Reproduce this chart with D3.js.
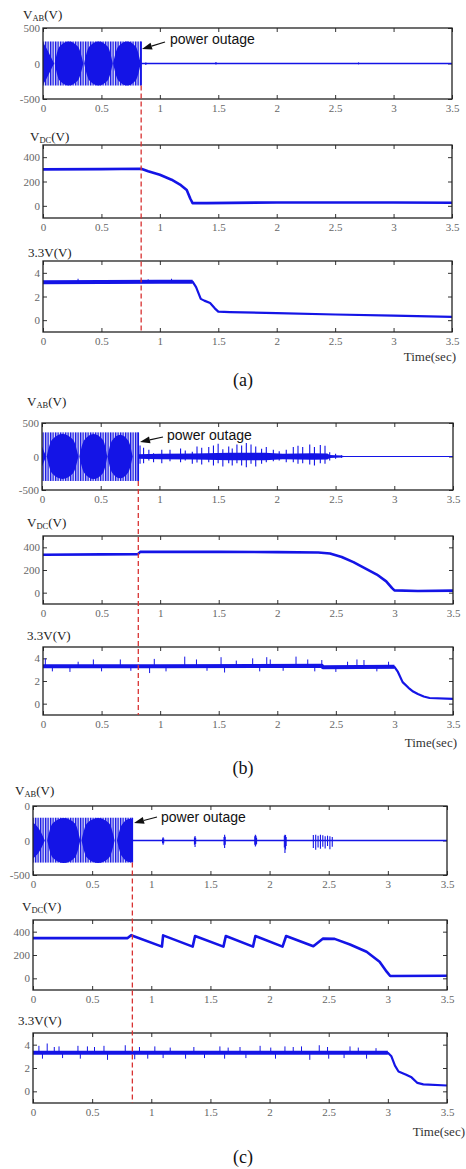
<!DOCTYPE html>
<html>
<head>
<meta charset="utf-8">
<script src="https://cdn.jsdelivr.net/npm/d3@7"></script>
<style>
  body { margin: 0; background: #fff; }
  svg { display: block; }
</style>
</head>
<body>
<svg id="fig"></svg>
<script>
const width = 466;
const height = 1169;

// ---- ticks ----
const timeTicks = [0, 0.5, 1, 1.5, 2, 2.5, 3, 3.5];
const vabTicks = [-500, 0, 500];
const vabTickLabels = [["-500", "0", "500"], ["-500", "0", "500"], ["-500", "0", "0"]];
const vdcTicks = [0, 200, 400];
const v33Ticks = [0, 2, 4];

const panelNames = ["(a)", "(b)", "(c)"];
const outageTimes = [0.84, 0.82, 0.84];

// ---- V_AB before the outage: peak band and the solid beat lobes [t, half height] ----
const acPeaks = [[-310, 310], [-365, 360], [-320, 330]];
const lobesA = [
  [[0, 300], [0.03, 215], [0.06, 115], [0.095, 0]],
  [[0.10, 0], [0.14, 235], [0.22, 310], [0.30, 235], [0.345, 0]],
  [[0.352, 0], [0.395, 235], [0.475, 310], [0.555, 235], [0.597, 0]],
  [[0.60, 0], [0.643, 235], [0.72, 310], [0.795, 235], [0.836, 0]]
];
const lobesB = [
  [[0, 150], [0.035, 0]],
  [[0.04, 0], [0.085, 250], [0.175, 335], [0.265, 250], [0.31, 0]],
  [[0.318, 0], [0.36, 245], [0.44, 335], [0.52, 245], [0.556, 0]],
  [[0.558, 0], [0.595, 235], [0.665, 325], [0.735, 235], [0.772, 0]]
];
const lobesC = [
  [[0, 260], [0.05, 170], [0.10, 0]],
  [[0.12, 0], [0.165, 245], [0.26, 325], [0.355, 245], [0.40, 0]],
  [[0.41, 0], [0.455, 245], [0.55, 325], [0.645, 245], [0.69, 0]],
  [[0.71, 0], [0.75, 225], [0.82, 315], [0.84, 305]]
];

// ---- V_AB after the outage: core band [t, half width] and spikes [t, low, high] ----
const vabCoreA = [[0.84, 12], [3.5, 12]];
const vabCoreB = [[0.82, 35], [1.0, 40], [1.3, 45], [1.6, 55], [1.9, 55], [2.05, 40], [2.3, 50],
  [2.43, 45], [2.45, 22], [2.55, 15], [2.57, 8], [3.5, 8]];
const vabCoreC = [[0.84, 10], [3.5, 10]];
const vabSpikesA = [[0.88, -20, 15], [1.48, -15, 20], [2.7, -12, 15]];
const vabSpikesB = [
  [0.835, -110, 165], [0.865, -100, 130], [0.91, -60, 100], [0.95, -85, 50], [1.02, -100, 100],
  [1.09, -70, 100], [1.18, -85, 120], [1.22, -60, 90], [1.28, -110, 70], [1.32, -90, 150],
  [1.36, -120, 130], [1.42, -85, 140], [1.46, -135, 165], [1.50, -100, 190], [1.54, -150, 110],
  [1.59, -100, 150], [1.62, -135, 120], [1.66, -100, 180], [1.70, -135, 165], [1.74, -160, 200],
  [1.78, -110, 180], [1.82, -150, 150], [1.87, -110, 115], [1.91, -85, 140], [1.97, -70, 100],
  [2.02, -60, 80], [2.08, -85, 100], [2.14, -85, 140], [2.18, -110, 160], [2.22, -100, 140],
  [2.28, -120, 180], [2.32, -135, 140], [2.37, -100, 170], [2.41, -110, 160], [2.45, -60, 65],
  [2.50, -35, 40], [2.55, -20, 20]
];
const vabSpikesC = [
  [1.095, -40, 30], [1.10, -62, 48], [1.105, -40, 30],
  [1.365, -60, 45], [1.37, -96, 67], [1.375, -50, 40],
  [1.615, -70, 50], [1.62, -110, 82], [1.625, -60, 55],
  [1.875, -60, 60], [1.88, -86, 82], [1.885, -70, 70], [1.89, -50, 40],
  [2.125, -100, 70], [2.13, -180, 82], [2.135, -130, 80], [2.14, -80, 50],
  [2.37, -110, 80], [2.39, -134, 82], [2.41, -100, 70], [2.43, -120, 82], [2.45, -90, 75],
  [2.47, -115, 60], [2.49, -80, 70], [2.51, -125, 60], [2.53, -90, 50]
];

// ---- V_DC [t, V] ----
const vdcA = [[0, 300], [0.5, 302], [0.84, 305], [0.9, 285], [1.0, 255], [1.1, 215], [1.18, 170],
  [1.23, 130], [1.26, 60], [1.28, 22], [1.4, 22], [2.0, 28], [2.5, 27], [3.0, 27], [3.5, 25]];
const vdcB = [[0, 335], [0.5, 338], [0.81, 340], [0.83, 360], [1.5, 360], [2.0, 358], [2.35, 355],
  [2.45, 345], [2.55, 315], [2.65, 270], [2.75, 215], [2.85, 160], [2.93, 100], [2.98, 40],
  [3.0, 20], [3.2, 15], [3.5, 18]];
const vdcC = [[0, 345], [0.8, 345], [0.83, 370], [1.09, 272], [1.10, 368], [1.35, 272], [1.37, 363],
  [1.61, 272], [1.63, 363], [1.86, 272], [1.88, 363], [2.11, 272], [2.14, 363], [2.37, 275],
  [2.45, 340], [2.55, 338], [2.68, 290], [2.82, 228], [2.93, 142], [2.99, 57], [3.02, 20], [3.5, 22]];

// ---- 3.3V rail [t, V] and spikes [t, V] ----
const v33A = [[0, 3.2], [0.5, 3.22], [1.0, 3.25], [1.28, 3.25], [1.31, 2.8], [1.35, 1.8], [1.38, 1.65],
  [1.43, 1.45], [1.47, 1.0], [1.5, 0.72], [1.6, 0.68], [2.0, 0.6], [2.5, 0.48], [3.0, 0.38], [3.5, 0.28]];
const v33B = [[0, 3.3], [1.0, 3.3], [2.38, 3.35], [2.39, 3.22], [3.0, 3.25], [3.03, 2.8], [3.07, 1.9],
  [3.12, 1.4], [3.16, 1.07], [3.2, 0.85], [3.25, 0.63], [3.3, 0.5], [3.5, 0.42]];
const v33C = [[0, 3.3], [1.5, 3.3], [3.0, 3.3], [3.03, 3.0], [3.06, 2.2], [3.09, 1.7], [3.15, 1.45],
  [3.2, 1.2], [3.25, 0.72], [3.3, 0.6], [3.5, 0.5]];
const v33SpikesA = [[0.3, 3.5], [0.9, 3.45], [1.1, 3.5]];
const v33SpikesB = [
  [0.02, 4.0], [0.08, 2.85], [0.23, 2.8], [0.30, 3.7], [0.43, 3.9], [0.50, 2.85], [0.66, 3.9],
  [0.75, 2.9], [0.91, 2.7], [0.95, 3.95], [1.05, 2.85], [1.21, 4.15], [1.31, 3.9], [1.40, 2.9],
  [1.52, 4.1], [1.55, 2.75], [1.65, 3.8], [1.79, 4.0], [1.85, 2.85], [1.91, 4.1], [1.94, 3.9],
  [2.05, 2.9], [2.16, 4.15], [2.26, 3.9], [2.32, 2.85], [2.38, 3.85], [2.50, 2.8], [2.60, 3.7],
  [2.68, 3.9], [2.74, 3.85], [2.85, 2.85], [2.95, 3.7]
];
const v33SpikesC = [
  [0.05, 3.9], [0.08, 2.8], [0.12, 4.1], [0.18, 3.8], [0.22, 3.85], [0.25, 2.85], [0.38, 3.9],
  [0.40, 2.8], [0.46, 3.85], [0.52, 3.8], [0.60, 3.9], [0.63, 2.7], [0.78, 3.95], [0.86, 2.75],
  [0.90, 3.8], [0.97, 2.8], [1.03, 3.85], [1.10, 2.85], [1.16, 3.75], [1.29, 2.8], [1.36, 3.8],
  [1.45, 2.85], [1.58, 3.85], [1.62, 2.8], [1.65, 3.75], [1.75, 3.8], [1.80, 2.85], [1.92, 3.9],
  [2.01, 3.75], [2.05, 2.8], [2.13, 3.85], [2.20, 3.8], [2.27, 3.85], [2.34, 2.7], [2.42, 3.95],
  [2.49, 3.8], [2.50, 2.8], [2.63, 2.85], [2.68, 3.85], [2.75, 3.75], [2.82, 2.8], [2.90, 3.7]
];

// ---- layout (pixel frames of the nine plots) ----
const frames = [
  [{ l: 43, r: 452, t: 28, b: 99 }, { l: 43, r: 452, t: 145, b: 218 }, { l: 43, r: 452, t: 261, b: 332 }],
  [{ l: 42, r: 453, t: 423, b: 490 }, { l: 43, r: 453, t: 536, b: 604 }, { l: 43, r: 453, t: 647, b: 715 }],
  [{ l: 33, r: 447, t: 806, b: 875 }, { l: 33, r: 447, t: 920, b: 990 }, { l: 33, r: 447, t: 1033, b: 1103 }]
];
const titlePos = [
  [[23, 19], [30, 141], [28, 257]],
  [[27, 406], [27, 527], [27, 640]],
  [[15, 795], [22, 911], [18, 1025]]
];
const timeLabelPos = [[456, 361], [457, 747], [465, 1136]];
const letterY = [386, 774, 1163];
const arrowPos = [ // [tailX, tailY, tipX, tipY, textX, textY]
  [165, 42, 142, 49, 170, 44],
  [163, 437, 140, 442, 167, 440],
  [157, 817, 134, 823, 161, 822]
];

const blue = "#1414e6";
const serif = "'Liberation Serif', 'DejaVu Serif', serif";

const svg = d3.select("#fig")
  .attr("width", width)
  .attr("height", height)
  .attr("viewBox", [0, 0, width, height]);

const defs = svg.append("defs");
const pat = defs.append("pattern")
  .attr("id", "stripes")
  .attr("patternUnits", "userSpaceOnUse")
  .attr("width", 2.5)
  .attr("height", 4);
pat.append("rect").attr("width", 2.5).attr("height", 4).attr("fill", "#e2e4f7");
pat.append("rect").attr("width", 1.3).attr("height", 4).attr("fill", blue);

const panels = [
  { lobes: lobesA, core: vabCoreA, spikes: vabSpikesA, vdc: vdcA, v33: v33A, v33Spikes: v33SpikesA },
  { lobes: lobesB, core: vabCoreB, spikes: vabSpikesB, vdc: vdcB, v33: v33B, v33Spikes: v33SpikesB },
  { lobes: lobesC, core: vabCoreC, spikes: vabSpikesC, vdc: vdcC, v33: v33C, v33Spikes: v33SpikesC }
];

function drawFrame(f, yDomain, yTicks, yLabels) {
  const x = d3.scaleLinear().domain([0, 3.5]).range([f.l, f.r]);
  const y = d3.scaleLinear().domain(yDomain).range([f.b, f.t]);
  const g = svg.append("g");

  const styleAxis = sel => {
    sel.select(".domain").remove();
    sel.selectAll(".tick line").attr("stroke", "#333");
    sel.selectAll(".tick text")
      .attr("fill", "#666")
      .attr("font-family", serif)
      .attr("font-size", 11);
  };

  g.append("g").attr("transform", `translate(0,${f.b})`)
    .call(d3.axisBottom(x).tickValues(timeTicks).tickFormat(d3.format("~g"))
      .tickSizeInner(-4).tickSizeOuter(0).tickPadding(5))
    .call(styleAxis);
  g.append("g").attr("transform", `translate(0,${f.t})`)
    .call(d3.axisTop(x).tickValues(timeTicks).tickFormat("")
      .tickSizeInner(-4).tickSizeOuter(0))
    .call(styleAxis);
  g.append("g").attr("transform", `translate(${f.l},0)`)
    .call(d3.axisLeft(y).tickValues(yTicks).tickFormat((d, i) => yLabels[i])
      .tickSizeInner(-4).tickSizeOuter(0).tickPadding(3))
    .call(styleAxis);
  g.append("g").attr("transform", `translate(${f.r},0)`)
    .call(d3.axisRight(y).tickValues(yTicks).tickFormat("")
      .tickSizeInner(-4).tickSizeOuter(0))
    .call(styleAxis);

  return { x, y, g };
}

function drawBox(f) {
  svg.append("rect")
    .attr("x", f.l).attr("y", f.t)
    .attr("width", f.r - f.l).attr("height", f.b - f.t)
    .attr("fill", "none").attr("stroke", "#222").attr("stroke-width", 1.3);
}

function title(xp, yp, main, sub, tail) {
  const t = svg.append("text")
    .attr("x", xp).attr("y", yp)
    .attr("font-family", serif).attr("font-size", 13).attr("fill", "#222");
  t.append("tspan").text(main);
  if (sub) t.append("tspan").attr("font-size", 8.5).attr("dy", 2).text(sub);
  t.append("tspan").attr("dy", sub ? -2 : 0).text(tail);
}

const line = (x, y) => d3.line().x(d => x(d[0])).y(d => y(d[1]));

panels.forEach((p, i) => {
  const fr = frames[i];
  const tOut = outageTimes[i];

  // ---------- V_AB ----------
  const a = drawFrame(fr[0], [-500, 500], vabTicks, vabTickLabels[i]);
  const [lo, hi] = acPeaks[i];
  a.g.append("rect")
    .attr("x", a.x(0)).attr("y", a.y(hi))
    .attr("width", a.x(tOut) - a.x(0)).attr("height", a.y(lo) - a.y(hi))
    .attr("fill", "url(#stripes)");
  const lobeArea = d3.area()
    .x(d => a.x(d[0]))
    .y0(d => a.y(-d[1]))
    .y1(d => a.y(d[1]))
    .curve(d3.curveMonotoneX);
  a.g.selectAll(".lobe").data(p.lobes).join("path")
    .attr("class", "lobe")
    .attr("d", lobeArea)
    .attr("fill", blue);
  a.g.append("line")
    .attr("x1", a.x(tOut)).attr("x2", a.x(tOut))
    .attr("y1", a.y(hi)).attr("y2", a.y(lo))
    .attr("stroke", blue).attr("stroke-width", 1.5);

  a.g.append("path")
    .datum(p.core)
    .attr("d", d3.area().x(d => a.x(d[0])).y0(d => a.y(-d[1])).y1(d => a.y(d[1])))
    .attr("fill", blue);
  a.g.selectAll(".spike").data(p.spikes).join("line")
    .attr("class", "spike")
    .attr("x1", d => a.x(d[0])).attr("x2", d => a.x(d[0]))
    .attr("y1", d => a.y(d[1])).attr("y2", d => a.y(d[2]))
    .attr("stroke", blue).attr("stroke-width", 1.1);
  drawBox(fr[0]);

  // ---------- V_DC ----------
  const b = drawFrame(fr[1], [-100, 500], vdcTicks, vdcTicks.map(String));
  b.g.append("path")
    .datum(p.vdc)
    .attr("d", line(b.x, b.y))
    .attr("fill", "none").attr("stroke", blue)
    .attr("stroke-width", 2.6).attr("stroke-linejoin", "round");
  drawBox(fr[1]);

  // ---------- 3.3V ----------
  const c = drawFrame(fr[2], [-1, 5], v33Ticks, v33Ticks.map(String));
  c.g.selectAll(".spike").data(p.v33Spikes).join("line")
    .attr("class", "spike")
    .attr("x1", d => c.x(d[0])).attr("x2", d => c.x(d[0]))
    .attr("y1", d => c.y(3.3)).attr("y2", d => c.y(d[1]))
    .attr("stroke", blue).attr("stroke-width", 1);
  c.g.append("path")
    .datum(p.v33)
    .attr("d", line(c.x, c.y))
    .attr("fill", "none").attr("stroke", blue)
    .attr("stroke-width", 2.2).attr("stroke-linejoin", "round");
  c.g.append("path")
    .datum(p.v33.filter(d => d[0] <= (i === 0 ? 1.28 : 3.0)))
    .attr("d", line(c.x, c.y))
    .attr("fill", "none").attr("stroke", blue)
    .attr("stroke-width", 4).attr("stroke-linejoin", "round");
  drawBox(fr[2]);

  // ---------- outage marker ----------
  svg.append("line")
    .attr("x1", a.x(tOut)).attr("x2", a.x(tOut))
    .attr("y1", a.y(lo)).attr("y2", fr[2].b)
    .attr("stroke", "#d83232").attr("stroke-width", 1.3)
    .attr("stroke-dasharray", "5,3");

  const [tx, ty, hx, hy, txtX, txtY] = arrowPos[i];
  const ang = Math.atan2(ty - hy, tx - hx);
  const hl = 10, hw = 3.5;
  const bx = hx + hl * Math.cos(ang), by = hy + hl * Math.sin(ang);
  svg.append("line")
    .attr("x1", tx).attr("y1", ty).attr("x2", bx).attr("y2", by)
    .attr("stroke", "#111").attr("stroke-width", 1.2);
  svg.append("path")
    .attr("d", `M${hx},${hy}L${bx - hw * Math.sin(ang)},${by + hw * Math.cos(ang)}L${bx + hw * Math.sin(ang)},${by - hw * Math.cos(ang)}Z`)
    .attr("fill", "#111");
  svg.append("text")
    .attr("x", txtX).attr("y", txtY)
    .attr("font-family", "'Liberation Sans', Arial, sans-serif")
    .attr("font-size", 14).attr("fill", "#111")
    .text("power outage");

  // ---------- titles ----------
  title(titlePos[i][0][0], titlePos[i][0][1], "V", "AB", "(V)");
  title(titlePos[i][1][0], titlePos[i][1][1], "V", "DC", "(V)");
  title(titlePos[i][2][0], titlePos[i][2][1], "3.3V(V)", null, "");

  svg.append("text")
    .attr("x", timeLabelPos[i][0]).attr("y", timeLabelPos[i][1])
    .attr("text-anchor", "end")
    .attr("font-family", serif).attr("font-size", 13).attr("fill", "#333")
    .text("Time(sec)");
  svg.append("text")
    .attr("x", 243).attr("y", letterY[i])
    .attr("text-anchor", "middle")
    .attr("font-family", serif).attr("font-size", 18).attr("fill", "#111")
    .text(panelNames[i]);
});
</script>
</body>
</html>
